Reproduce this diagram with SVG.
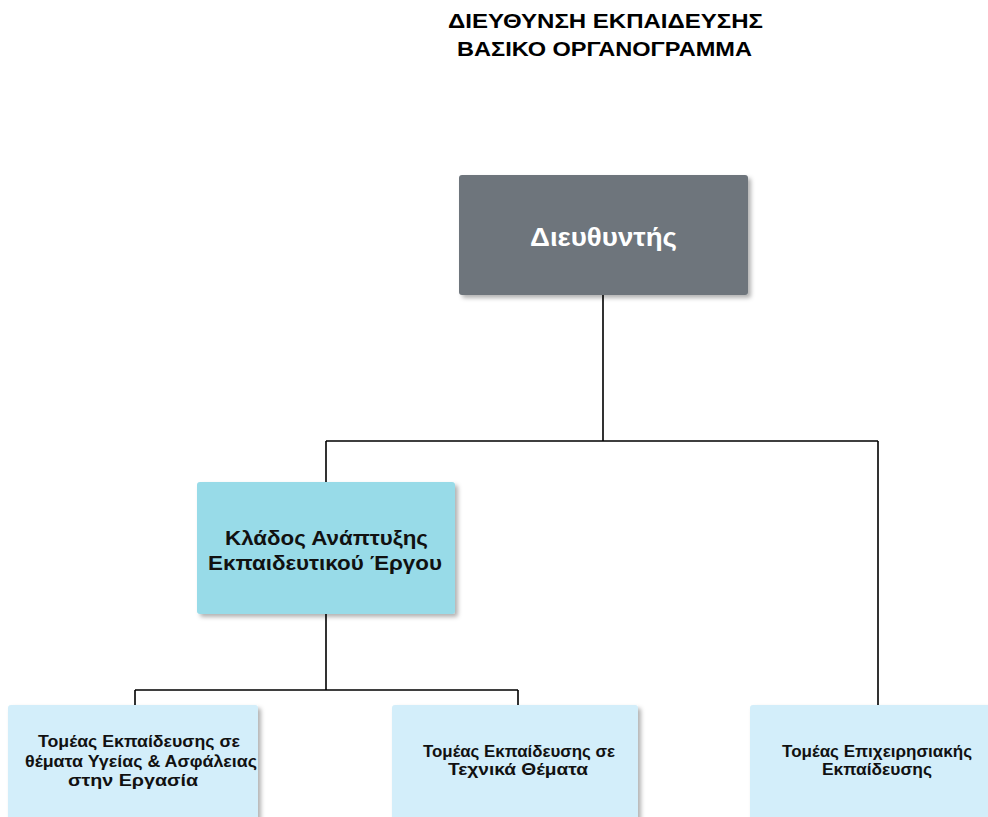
<svg xmlns="http://www.w3.org/2000/svg" width="988" height="817" viewBox="0 0 988 817">
<defs>
<filter id="sh" x="-10%" y="-10%" width="130%" height="130%">
<feDropShadow dx="3" dy="3" stdDeviation="2" flood-color="#000" flood-opacity="0.3"/>
</filter>
</defs>
<style>
text{font-family:"Liberation Sans",Arial,sans-serif;font-weight:bold;text-anchor:middle}
.title{font-size:21px;fill:#000}
.conn{fill:none;stroke:#000;stroke-width:1.6}
.dir{fill:#6e757c;filter:url(#sh)}
.br{fill:#98dbe8;filter:url(#sh)}
.sec{fill:#d3eefa;filter:url(#sh)}
.t1{font-size:25px;fill:#fff}
.t2{font-size:21px;fill:#111}
.t3{font-size:16px;fill:#111}
</style>
<rect width="988" height="817" fill="#fff"/>
<g id="title">
<text class="title" x="605.5" y="28" textLength="315" lengthAdjust="spacingAndGlyphs">ΔΙΕΥΘΥΝΣΗ ΕΚΠΑΙΔΕΥΣΗΣ</text>
<text class="title" x="604.5" y="56" textLength="295" lengthAdjust="spacingAndGlyphs">ΒΑΣΙΚΟ ΟΡΓΑΝΟΓΡΑΜΜΑ</text>
</g>
<g id="connectors">
<path class="conn" d="M603 295 V441 M326 441 H878 M326 441 V482 M878 441 V705"/>
<path class="conn" d="M326 614 V690 M135 690 H518 M135 690 V705 M518 690 V705"/>
</g>
<g id="director">
<rect class="dir" x="459" y="175" width="289" height="120" rx="3"/>
<text class="t1" x="603.5" y="246" textLength="147" lengthAdjust="spacingAndGlyphs">Διευθυντής</text>
</g>
<g id="branch">
<rect class="br" x="197" y="482" width="258" height="132" rx="3"/>
<text class="t2" x="326.5" y="545" textLength="203" lengthAdjust="spacingAndGlyphs">Κλάδος Ανάπτυξης</text>
<text class="t2" x="325" y="570" textLength="234" lengthAdjust="spacingAndGlyphs">Εκπαιδευτικού Έργου</text>
</g>
<g id="sector-health">
<rect class="sec" x="8" y="705" width="250" height="130" rx="3"/>
<text class="t3" x="139" y="747" textLength="202" lengthAdjust="spacingAndGlyphs">Τομέας Εκπαίδευσης σε</text>
<text class="t3" x="141" y="767" textLength="232" lengthAdjust="spacingAndGlyphs">θέματα Υγείας &amp; Ασφάλειας</text>
<text class="t3" x="133" y="786" textLength="130" lengthAdjust="spacingAndGlyphs">στην Εργασία</text>
</g>
<g id="sector-technical">
<rect class="sec" x="392" y="705" width="246" height="130" rx="3"/>
<text class="t3" x="519" y="757" textLength="192" lengthAdjust="spacingAndGlyphs">Τομέας Εκπαίδευσης σε</text>
<text class="t3" x="518" y="775" textLength="140" lengthAdjust="spacingAndGlyphs">Τεχνικά Θέματα</text>
</g>
<g id="sector-business">
<rect class="sec" x="750" y="705" width="256" height="130" rx="3"/>
<text class="t3" x="877" y="757" textLength="190" lengthAdjust="spacingAndGlyphs">Τομέας Επιχειρησιακής</text>
<text class="t3" x="877" y="775" textLength="110" lengthAdjust="spacingAndGlyphs">Εκπαίδευσης</text>
</g>
</svg>
